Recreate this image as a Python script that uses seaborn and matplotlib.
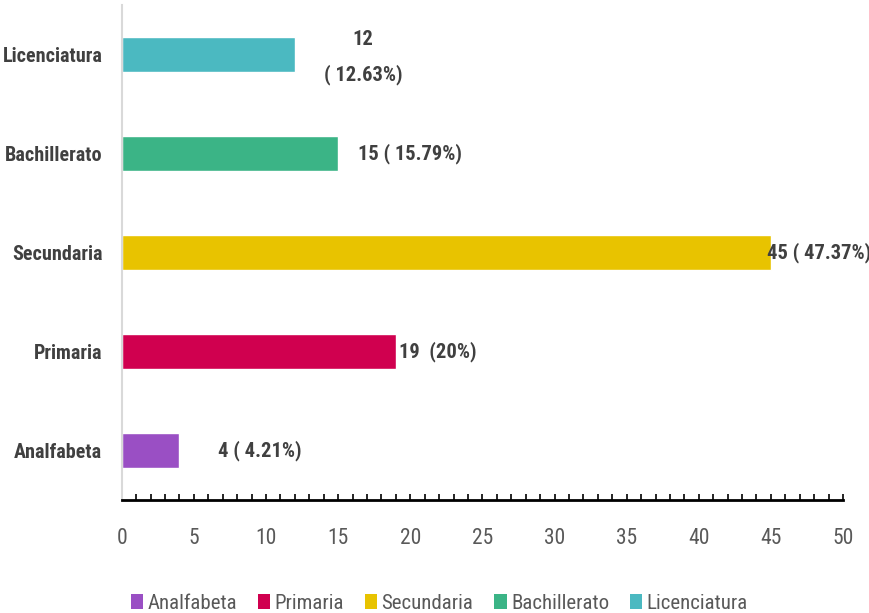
import numpy as np
import pandas as pd
import matplotlib
matplotlib.use('Agg')
import matplotlib.pyplot as plt
import seaborn as sns
from matplotlib.ticker import MultipleLocator
from matplotlib.patches import Patch
from matplotlib.font_manager import fontManager

# data
levels = ['Analfabeta', 'Primaria', 'Secundaria', 'Bachillerato', 'Licenciatura']
counts = [4, 19, 45, 15, 12]
labels = ['4 ( 4.21%)', '19  (20%)', '45 ( 47.37%)', '15 ( 15.79%)', '12\n( 12.63%)']
colors = ['#9a4fc4', '#d0004f', '#e8c300', '#3bb486', '#4bb9c1']

# label offsets (points) and alignment, one per bar
offsets = [(28, 0), (2, 0), (-3, 0), (14, 0), (49, -2)]
aligns = ['left', 'left', 'left', 'left', 'center']

sns.set_style('white')
names = {f.name for f in fontManager.ttflist}
fam = [f for f in ['Liberation Sans Narrow', 'Roboto Condensed', 'Open Sans Condensed'] if f in names]
plt.rcParams['font.family'] = fam + ['Liberation Sans', 'DejaVu Sans']

df = pd.DataFrame({'Nivel': levels, 'Total': counts})

fig = plt.figure(figsize=(8.7, 6.13), dpi=100)
ax = fig.add_axes([0.140, 0.184, 0.829, 0.808])

sns.barplot(data=df, x='Total', y='Nivel', hue='Nivel', hue_order=levels,
            order=levels[::-1], palette=colors, width=0.355, orient='h',
            saturation=1, legend=False, ax=ax)

for bar_val, lab, off, ha, lvl in zip(counts, labels, offsets, aligns, levels):
    ypos = levels[::-1].index(lvl)
    ax.annotate(lab, xy=(bar_val, ypos), xytext=off, textcoords='offset points',
                ha=ha, va='center', fontsize=14.8, fontweight='bold', color='#404040',
                linespacing=1.95)

ax.set_xlim(0, 50)
ax.set_ylim(4.5, -0.5)
ax.xaxis.set_major_locator(MultipleLocator(5))
ax.xaxis.set_minor_locator(MultipleLocator(1))
ax.tick_params(axis='x', which='both', direction='in', length=4, width=1.2,
               color='black', bottom=True)
ax.tick_params(axis='x', which='major', labelsize=15.5, labelcolor='#595959', pad=20)
ax.tick_params(axis='y', length=0, pad=14, labelsize=14.5, labelcolor='#404040')
for t in ax.get_yticklabels():
    t.set_fontweight('bold')
ax.set_xlabel('')
ax.set_ylabel('')

sns.despine(ax=ax, top=True, right=True)
ax.spines['left'].set_color('#d9d9d9')
ax.spines['left'].set_linewidth(1.5)
ax.spines['bottom'].set_color('black')
ax.spines['bottom'].set_linewidth(2)

handles = [Patch(facecolor=c, edgecolor='none') for c in colors]
fig.legend(handles, levels, loc='lower center', bbox_to_anchor=(0.505, -0.03), ncol=5,
           frameon=False, fontsize=15, labelcolor='#595959', handlelength=0.6,
           handleheight=0.7, handletextpad=0.2, columnspacing=1.0)

fig.savefig('out.png', dpi=100)
